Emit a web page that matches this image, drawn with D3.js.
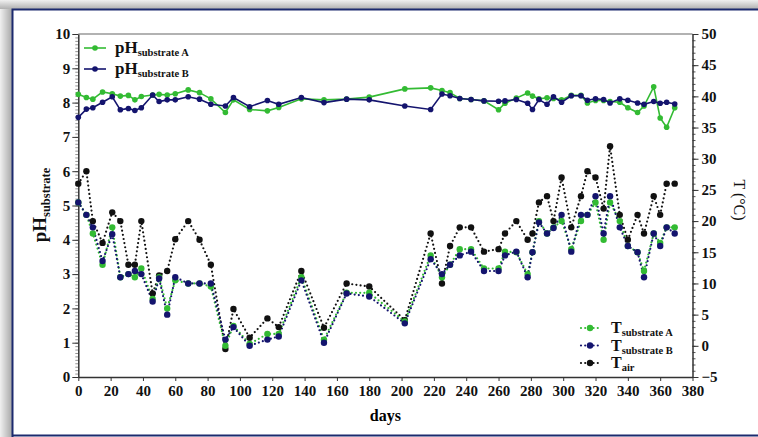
<!DOCTYPE html>
<html><head><meta charset="utf-8">
<script src="https://cdn.jsdelivr.net/npm/d3@7"></script>
<style>html,body{margin:0;padding:0;background:#fff;}svg{display:block;}</style>
</head><body>
<svg id="c" width="758" height="437"></svg>
<script>
const days = [0,5,9,15,21,26,31,35,39,46,50,55,60,68,75,82,91,96,106,117,124,138,152,166,180,202,218,225,230,236,243,251,260,264,271,278,281,285,290,294,299,305,311,315,320,325,329,335,340,346,350,356,360,364,369];
const phA = [8.24,8.15,8.10,8.31,8.26,8.19,8.21,8.08,8.18,8.22,8.24,8.22,8.26,8.37,8.29,8.11,7.71,8.08,7.80,7.76,7.86,8.11,8.08,8.10,8.16,8.40,8.43,8.35,8.29,8.12,8.09,8.05,7.79,7.98,8.13,8.28,8.19,8.11,8.14,8.12,8.08,8.21,8.21,7.99,8.06,8.06,8.03,8.01,7.85,7.71,7.90,8.46,7.55,7.28,7.85];
const phB = [7.57,7.81,7.85,8.01,8.17,7.79,7.83,7.77,7.85,8.22,8.03,8.08,8.08,8.17,8.10,7.95,7.90,8.15,7.88,8.06,7.95,8.15,8.00,8.10,8.08,7.90,7.80,8.25,8.20,8.12,8.09,8.05,8.04,8.05,8.09,7.98,7.80,8.09,7.95,8.17,8.01,8.20,8.20,8.07,8.11,8.09,7.99,8.11,8.07,7.99,7.95,8.03,7.98,8.01,7.96];
const tAir = [26,28,20,16.5,21.4,20,13,13,20,8.4,11.3,12,17.1,20,17,13,-0.5,5.9,1.3,4.4,3.0,12,2.9,10,9.5,4.1,18,10,16,19,19,15.1,15.5,18,20,17,18,23,24,20,27,19,24,28,27,22,32,21,17,21,18,24,21,26,26];
const tSubB = [23,21,19,13.6,17.9,11,11.5,12,11.5,7.1,10.8,5.0,11,10,10,10,1.0,3.0,0,1.0,1.5,10.5,0.5,8.4,7.9,3.6,13.9,11.5,13,14.5,15.1,12,12,14.5,15.1,11,15,19.8,18,18.9,21,15.1,21,21,24,18,24,19,16,15,11,18,16,19,18];
const tSubA = [23,21,18,13,19,11,11.5,11,12.4,7.5,11,6,10.5,10,10,9.5,0,3.2,0.3,1.9,1.9,11,1.0,8.5,8.5,3.9,14.5,11,13,15.5,15.5,12.4,12.4,15.1,15,11.5,15,20,18,19,20,15.5,20,21,23,17,23,20,16,15,12,18,16.5,19,19];
const xTicks = d3.range(0,381,20);
const yLTicks = d3.range(0,11,1);
const yRTicks = d3.range(-5,51,5);

const GREEN = "#33bb33", NAVY = "#14146e", BLACK = "#111";
const FONT = "'Liberation Serif','Times New Roman',serif";

const svg = d3.select("#c");
const defs = svg.append("defs");
const gl = defs.append("linearGradient").attr("id","gl").attr("x1","0").attr("x2","1").attr("y1","0").attr("y2","0");
gl.append("stop").attr("offset","0").attr("stop-color","#f0f0f0");
gl.append("stop").attr("offset","1").attr("stop-color","#a8a8a8");
const gt = defs.append("linearGradient").attr("id","gt").attr("x1","0").attr("x2","0").attr("y1","0").attr("y2","1");
gt.append("stop").attr("offset","0").attr("stop-color","#f0f0f0");
gt.append("stop").attr("offset","1").attr("stop-color","#b0b0b0");
svg.append("rect").attr("x",0).attr("y",0).attr("width",758).attr("height",437).attr("fill","#fff");
svg.append("rect").attr("x",0).attr("y",0).attr("width",12).attr("height",437).attr("fill","url(#gl)");
svg.append("rect").attr("x",0).attr("y",0).attr("width",758).attr("height",9).attr("fill","url(#gt)");
svg.append("path").attr("d","M12.5,437 V9.5 H758").attr("fill","none").attr("stroke","#1c2a6e").attr("stroke-width",2);
svg.append("line").attr("x1",12).attr("x2",758).attr("y1",435.5).attr("y2",435.5).attr("stroke","#1c2a6e").attr("stroke-width",2);

const x = d3.scaleLinear().domain([0,380]).range([78.3,692.5]);
const yL = d3.scaleLinear().domain([0,10]).range([377,34]);
const yR = d3.scaleLinear().domain([-5,50]).range([377,34]);

svg.append("line").attr("x1",x(0)).attr("x2",x(380)).attr("y1",34).attr("y2",34).attr("stroke","#999").attr("stroke-width",1.5);

function styleAxis(g){
  g.selectAll("path.domain").attr("stroke","#333").attr("stroke-width",1.5);
  g.selectAll(".tick line").attr("stroke","#333");
  g.selectAll(".tick text").attr("font-family",FONT).attr("font-weight","bold").attr("font-size","15px").attr("fill","#111");
}
const gLm = svg.append("g").attr("transform",`translate(${x(0)},0)`)
  .call(d3.axisLeft(yL).tickValues(d3.range(0,10.01,0.1)).tickSize(3).tickFormat("").tickSizeOuter(0));
gLm.selectAll("path.domain").remove(); gLm.selectAll(".tick line").attr("stroke","#777").attr("stroke-width",0.8);
const gL = svg.append("g").attr("transform",`translate(${x(0)},0)`)
  .call(d3.axisLeft(yL).tickValues(yLTicks).tickSize(6).tickPadding(2).tickSizeOuter(0).tickFormat(d3.format("d")));
styleAxis(gL);
const gRm = svg.append("g").attr("transform",`translate(${x(380)},0)`)
  .call(d3.axisRight(yR).tickValues(d3.range(-5,50.01,1)).tickSize(3).tickFormat("").tickSizeOuter(0));
gRm.selectAll("path.domain").remove(); gRm.selectAll(".tick line").attr("stroke","#555");
const gR = svg.append("g").attr("transform",`translate(${x(380)},0)`)
  .call(d3.axisRight(yR).tickValues(yRTicks).tickSize(6).tickPadding(3).tickSizeOuter(0).tickFormat(d3.format("d")));
styleAxis(gR);
const gB = svg.append("g").attr("transform",`translate(0,${yL(0)})`)
  .call(d3.axisBottom(x).tickValues(xTicks).tickSize(4).tickPadding(4).tickSizeOuter(0).tickFormat(d3.format("d")));
styleAxis(gB);

svg.append("text").attr("x",x(190)).attr("y",421).attr("text-anchor","middle")
  .attr("font-family",FONT).attr("font-weight","bold").attr("font-size","16px").text("days");
const pl = svg.append("text").attr("transform","translate(46,205) rotate(-90)").attr("text-anchor","middle")
  .attr("font-family",FONT).attr("font-weight","bold").attr("fill","#111");
pl.append("tspan").attr("font-size","19px").text("pH");
pl.append("tspan").attr("font-size","12.5px").attr("dy","4").text("substrate");
svg.append("text").attr("transform","translate(734,200) rotate(90)").attr("text-anchor","middle")
  .attr("font-family",FONT).attr("font-size","16px").attr("fill","#111").text("T (°C)");

const rows = days.map((d,i)=>({d, phA:phA[i], phB:phB[i], tAir:tAir[i], tA:tSubA[i], tB:tSubB[i]}));
function dotted(key, color){
  svg.append("path").datum(rows).attr("fill","none").attr("stroke",color).attr("stroke-width",2.2)
    .attr("stroke-linecap","round").attr("stroke-dasharray","0,4.2")
    .attr("d", d3.line().x(r=>x(r.d)).y(r=>yR(r[key])));
}
function markers(key, color, scale, r){
  svg.append("g").selectAll("circle").data(rows).join("circle")
    .attr("cx",d=>x(d.d)).attr("cy",d=>scale(d[key])).attr("r",r).attr("fill",color);
}
dotted("tAir", BLACK);
dotted("tA", GREEN);
dotted("tB", NAVY);
markers("tAir", BLACK, yR, 3.2);
markers("tA", GREEN, yR, 3.2);
markers("tB", NAVY, yR, 3.2);

function solid(key,color){
  svg.append("path").datum(rows).attr("fill","none").attr("stroke",color).attr("stroke-width",1.6)
    .attr("d", d3.line().x(r=>x(r.d)).y(r=>yL(r[key])));
}
solid("phA", GREEN); markers("phA", GREEN, yL, 2.8);
solid("phB", NAVY); markers("phB", NAVY, yL, 2.8);

const phLeg = [{c:GREEN, s:"substrate A", y:48},{c:NAVY, s:"substrate B", y:69}];
phLeg.forEach(l=>{
  svg.append("line").attr("x1",84).attr("x2",106).attr("y1",l.y).attr("y2",l.y).attr("stroke",l.c).attr("stroke-width",1.6);
  svg.append("circle").attr("cx",95).attr("cy",l.y).attr("r",2.8).attr("fill",l.c);
  const t = svg.append("text").attr("x",115).attr("y",l.y+5).attr("font-family",FONT).attr("font-weight","bold").attr("fill","#111");
  t.append("tspan").attr("font-size","17px").text("pH");
  t.append("tspan").attr("font-size","10.5px").attr("dy","3").text(l.s);
});
const tLeg = [{c:GREEN, s:"substrate A", y:328},{c:NAVY, s:"substrate B", y:345.5},{c:BLACK, s:"air", y:363}];
tLeg.forEach(l=>{
  svg.append("line").attr("x1",581).attr("x2",599).attr("y1",l.y).attr("y2",l.y).attr("stroke",l.c).attr("stroke-width",2.2)
    .attr("stroke-linecap","round").attr("stroke-dasharray","0,4.2");
  svg.append("circle").attr("cx",590).attr("cy",l.y).attr("r",3.2).attr("fill",l.c);
  const t = svg.append("text").attr("x",611).attr("y",l.y+5).attr("font-family",FONT).attr("font-weight","bold").attr("fill","#111");
  t.append("tspan").attr("font-size","16px").text("T");
  t.append("tspan").attr("font-size","10.5px").attr("dy","3").text(l.s);
});
</script>
</body></html>
